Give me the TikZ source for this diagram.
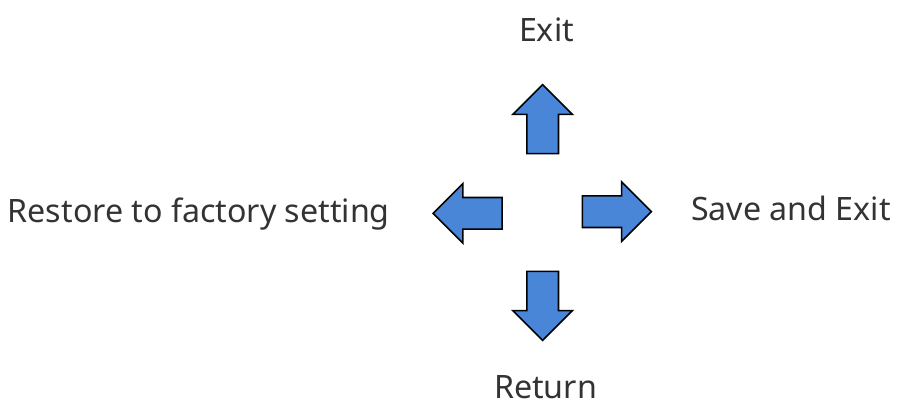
\documentclass[tikz,border=0pt]{standalone}
\usepackage{fontspec}
\setmainfont{Noto Sans}
\usepackage{tikz}
\usetikzlibrary{
  shapes.arrows,
  positioning
}
\definecolor{keyBlue}{HTML}{4A86D8}
\definecolor{keyText}{HTML}{333333}
\tikzset{
  keyarrow/.style={
    single arrow, draw=black, fill=keyBlue, line width=1.6pt,
    inner sep=15pt, minimum width=58pt, minimum height=69pt,
    single arrow head extend=14pt, single arrow tip angle=90,
    anchor=tip
  },
  keylabel/.style={
    font=\fontsize{32.2}{38}\selectfont, text=keyText, inner sep=0pt
  }
}
\begin{document}
\begin{tikzpicture}[x=1pt, y=-1pt]
  \useasboundingbox (0,0) rectangle (900,408);
  % arrow keys
  \node[keyarrow, shape border rotate=90] (up) at (542.7,83.5) {};
  \node[keyarrow, shape border rotate=270] (down) at (542.7,341.5) {};
  \node[keyarrow, shape border rotate=180] (left) at (432,213.3) {};
  \node[keyarrow, shape border rotate=0] (right) at (652.5,211.7) {};
  % labels
  \node[keylabel, anchor=base] (exit) at (546.5,41) {Exit};
  \node[keylabel, anchor=base] (return) at (545.5,398.5) {Return};
  \node[keylabel, anchor=base east] (restore) at (390,222.3) {Restore to factory setting};
  \node[keylabel, anchor=base west] (save) at (691,220) {Save and Exit};
\end{tikzpicture}
\end{document}
